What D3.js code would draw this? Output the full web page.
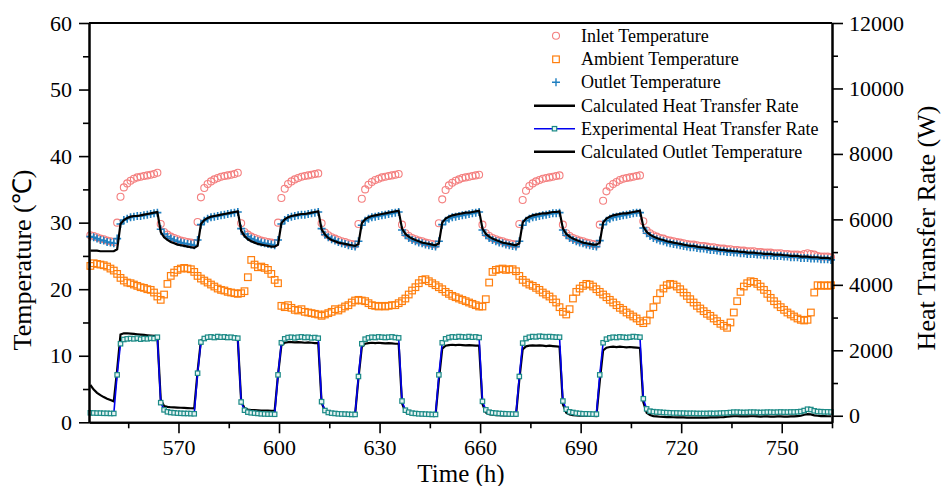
<!DOCTYPE html>
<html><head><meta charset="utf-8">
<script src="https://cdn.jsdelivr.net/npm/d3@7/dist/d3.min.js"></script>
<style>
body{margin:0;background:#fff}
svg{display:block}
text{font-family:"Liberation Serif","Times New Roman",serif;fill:#000}
</style>
</head><body>
<svg id="chart" width="941" height="486"></svg>
<script>
// ---------------- DATA (hourly samples starting at 543.7 h) ----------------
const timeStart = 543.7;
const timeStep = 1;

const inletTemp = [
 28.1,28.0,27.8,27.6,27.5,27.3,27.2,27.1,
 30.0,33.9,35.3,35.9,36.3,36.6,36.8,36.9,37.0,37.1,37.2,37.3,37.5,
 29.8,28.6,28.2,27.9,27.7,27.5,27.3,27.2,27.1,27.0,26.9,
 30.1,33.8,35.2,35.8,36.2,36.5,36.7,36.9,37.0,37.1,37.2,37.3,37.5,
 29.9,28.6,28.2,27.9,27.7,27.5,27.3,27.2,27.1,27.0,26.9,
 30.0,33.7,35.1,35.8,36.2,36.5,36.7,36.9,37.0,37.1,37.2,37.3,37.4,
 29.9,28.5,28.1,27.8,27.6,27.4,27.2,27.1,26.9,26.8,26.7,
 29.8,33.6,35.0,35.7,36.1,36.4,36.6,36.8,36.9,37.0,37.1,37.2,37.3,
 29.7,28.4,28.0,27.7,27.5,27.3,27.2,27.0,26.9,26.8,26.7,
 29.9,33.5,34.9,35.6,36.0,36.3,36.5,36.7,36.8,36.9,37.0,37.1,37.2,
 29.7,28.4,28.0,27.7,27.5,27.3,27.2,27.0,26.9,26.8,26.7,
 29.8,33.4,34.8,35.5,35.9,36.2,36.4,36.6,36.7,36.8,36.9,37.0,37.1,
 29.7,28.4,28.0,27.7,27.5,27.3,27.2,27.0,26.9,26.8,26.7,
 29.7,33.3,34.7,35.4,35.8,36.1,36.4,36.6,36.7,36.8,36.9,37.0,37.1,
 30.2,28.8,28.4,28.1,27.9,27.7,27.6,27.4,27.3,27.2,27.1,27.0,26.9,26.8,26.7,26.7,26.6,26.5,26.5,26.4,
 26.3,26.3,26.2,26.1,26.1,26.0,26.0,25.9,25.9,25.8,25.8,25.7,25.7,25.7,25.6,25.6,25.5,25.5,25.5,25.4,
 25.4,25.4,25.3,25.3,25.2,25.2,25.2,25.1,25.3,25.4,25.3,25.2,25.0,24.9,24.9,24.9,24.8
];

const ambientTemp = [
 23.5,23.9,23.8,23.7,23.6,23.4,23.1,22.8,22.3,21.7,21.3,21.0,20.9,20.7,20.5,20.3,20.2,20.0,19.9,19.5,
 18.9,18.4,19.2,20.8,22.0,22.5,22.9,23.1,23.2,23.1,23.0,22.6,22.0,21.6,21.3,21.0,20.7,20.4,20.1,19.9,
 19.8,19.6,19.5,19.4,19.3,19.4,19.7,21.8,24.4,23.7,23.3,23.4,23.2,22.9,22.3,21.4,20.9,17.5,17.3,17.6,
 17.2,16.9,16.8,17.0,16.6,16.5,16.4,16.3,16.2,16.0,16.2,16.4,16.6,17.0,16.8,17.1,17.4,17.6,18.0,18.3,
 18.4,18.3,18.2,17.9,17.6,17.5,17.4,17.5,17.4,17.5,17.6,17.6,17.9,18.2,18.6,19.2,19.8,20.3,20.9,21.4,
 21.5,21.2,20.9,20.6,20.3,20.0,19.6,19.3,19.0,18.8,18.6,18.4,18.2,18.0,17.8,17.6,17.4,17.4,18.5,21.0,
 22.6,22.9,23.0,23.1,22.9,23.0,23.0,22.7,22.0,21.4,21.0,20.7,20.5,20.2,19.9,19.5,19.2,18.9,18.5,18.0,
 17.3,16.6,16.2,17.0,18.6,19.6,20.1,20.5,20.8,20.7,20.4,20.0,19.6,19.2,18.8,18.4,18.0,17.6,17.2,16.9,
 16.5,16.2,15.9,15.6,15.2,14.9,15.3,16.2,17.3,18.4,19.4,20.1,20.6,20.8,20.7,20.4,20.0,19.5,19.0,18.5,
 18.0,17.5,17.1,16.7,16.3,16.0,15.6,15.2,14.8,14.5,14.2,15.0,16.5,18.2,19.6,20.4,20.9,21.2,21.1,20.8,
 20.4,19.9,19.3,18.7,18.2,17.7,17.3,16.9,16.5,16.2,15.9,15.6,15.4,15.3,15.4,16.5,19.5,20.6,20.5,20.6,
 20.5,20.6
];

const outletTemp = [
 27.9,27.8,27.6,27.4,27.3,27.1,27.0,26.9,
 27.6,29.8,30.4,30.6,30.8,30.9,31.0,31.0,31.1,31.2,31.3,31.4,31.5,
 29.0,28.3,27.9,27.6,27.4,27.2,27.0,26.9,26.8,26.7,26.6,
 27.4,29.7,30.3,30.6,30.8,30.9,31.0,31.1,31.2,31.3,31.4,31.5,31.6,
 29.1,28.3,27.9,27.6,27.4,27.2,27.0,26.9,26.8,26.7,26.6,
 27.4,29.8,30.4,30.7,30.9,31.0,31.1,31.2,31.2,31.3,31.4,31.5,31.6,
 29.1,28.2,27.8,27.5,27.3,27.1,26.9,26.8,26.6,26.5,26.4,
 27.2,29.6,30.3,30.6,30.8,30.9,31.0,31.1,31.2,31.3,31.4,31.5,31.6,
 28.9,28.1,27.7,27.4,27.2,27.0,26.9,26.7,26.6,26.5,26.4,
 27.2,29.7,30.3,30.6,30.8,30.9,31.0,31.1,31.2,31.3,31.4,31.5,31.6,
 28.9,28.1,27.7,27.4,27.2,27.0,26.9,26.7,26.6,26.5,26.4,
 27.2,29.6,30.3,30.6,30.8,30.9,31.0,31.1,31.2,31.3,31.4,31.4,31.5,
 28.9,28.1,27.7,27.4,27.2,27.0,26.9,26.7,26.6,26.5,26.4,
 27.3,29.7,30.3,30.6,30.8,30.9,31.0,31.1,31.2,31.3,31.4,31.5,31.5,
 29.2,28.4,28.0,27.7,27.5,27.3,27.2,27.0,26.9,26.8,26.7,26.6,26.5,26.4,26.3,26.3,26.2,26.1,26.1,26.0,
 25.9,25.9,25.8,25.7,25.7,25.6,25.6,25.5,25.5,25.4,25.4,25.3,25.3,25.3,25.2,25.2,25.1,25.1,25.1,25.0,
 25.0,25.0,24.9,24.9,24.8,24.8,24.8,24.7,24.7,24.7,24.6,24.6,24.6,24.5,24.5,24.5,24.4
];

const calcOutletTemp = [
 25.8,25.8,25.8,25.7,25.7,25.7,25.7,25.7,
 26.0,29.8,30.4,30.7,30.9,31.0,31.0,31.1,31.2,31.3,31.4,31.5,31.6,
 28.6,27.8,27.4,27.1,26.9,26.7,26.6,26.5,26.4,26.3,26.2,
 26.5,29.8,30.4,30.7,30.9,31.0,31.1,31.2,31.3,31.4,31.5,31.6,31.7,
 28.8,28.0,27.5,27.2,27.0,26.8,26.7,26.6,26.5,26.4,26.4,
 26.7,29.9,30.5,30.8,31.0,31.1,31.2,31.3,31.3,31.4,31.5,31.6,31.7,
 29.0,28.2,27.7,27.4,27.2,27.0,26.9,26.8,26.7,26.6,26.5,
 26.8,29.9,30.5,30.8,31.0,31.1,31.2,31.3,31.4,31.5,31.6,31.7,31.8,
 29.1,28.3,27.9,27.6,27.4,27.2,27.0,26.9,26.8,26.7,26.6,
 26.9,30.0,30.6,30.9,31.1,31.2,31.3,31.4,31.5,31.5,31.6,31.7,31.8,
 29.1,28.3,27.9,27.6,27.4,27.2,27.0,26.9,26.8,26.7,26.6,
 26.9,30.0,30.6,30.9,31.1,31.2,31.3,31.4,31.4,31.5,31.6,31.6,31.7,
 29.1,28.3,27.9,27.6,27.4,27.2,27.0,26.9,26.8,26.7,26.7,
 27.0,30.0,30.6,30.9,31.1,31.2,31.3,31.4,31.4,31.5,31.6,31.7,31.8,
 29.4,28.6,28.2,27.9,27.7,27.5,27.4,27.2,27.1,27.0,26.9,26.8,26.7,26.6,26.5,26.5,26.4,26.3,26.3,26.2,
 26.1,26.1,26.0,25.9,25.9,25.8,25.8,25.7,25.7,25.6,25.6,25.5,25.5,25.5,25.4,25.4,25.3,25.3,25.3,25.2,
 25.2,25.2,25.1,25.1,25.0,25.0,25.0,24.9,24.9,24.9,24.8,24.8,24.8,24.7,24.7,24.7,24.6
];

// heat transfer rates in W (right axis)
const calcHeatRate = [
 940,800,700,630,570,520,480,440,
 1400,2480,2520,2520,2510,2500,2490,2480,2470,2460,2450,2440,2430,
 500,300,270,260,255,250,245,240,235,230,225,
 1350,2300,2360,2380,2370,2360,2370,2360,2350,2360,2350,2340,2330,
 450,230,190,175,170,165,160,160,155,150,150,
 1250,2150,2230,2250,2250,2240,2250,2240,2230,2240,2230,2220,2220,
 400,150,100,80,70,60,60,55,50,50,45,
 1150,2100,2200,2220,2230,2220,2230,2220,2210,2220,2210,2200,2200,
 380,120,70,50,40,35,30,30,25,25,20,
 1100,2050,2140,2160,2170,2160,2170,2160,2150,2160,2150,2140,2140,
 360,100,50,30,20,15,10,10,5,5,0,
 1100,2030,2120,2140,2150,2140,2150,2140,2130,2140,2130,2120,2110,
 350,90,40,20,10,5,0,0,-5,-5,-10,
 1050,2000,2080,2100,2110,2100,2110,2100,2090,2100,2090,2080,2070,
 420,90,20,-10,-20,-30,-35,-40,-40,-45,-50,-50,-50,-55,-55,-55,-55,-55,-55,-55,
 -50,-50,-50,-45,-40,-30,-20,-15,-15,-20,-20,-20,-15,-15,-20,-25,-20,-20,-25,-25,
 -20,-20,-25,-25,-20,-20,-10,0,30,50,40,10,0,-10,-10,-15,-15
];

const expHeatRate = [
 90,85,80,80,75,75,70,70,
 1250,2200,2330,2350,2360,2350,2370,2340,2360,2350,2370,2360,2400,
 400,180,120,100,90,80,75,70,70,65,60,
 1300,2250,2360,2400,2410,2390,2420,2400,2410,2390,2400,2380,2370,
 420,170,110,90,80,70,60,55,50,50,45,
 1250,2230,2350,2390,2400,2380,2400,2410,2390,2400,2380,2390,2370,
 430,160,100,80,70,60,55,50,45,40,40,
 1200,2200,2340,2380,2400,2390,2410,2400,2390,2400,2410,2390,2380,
 450,170,110,80,70,60,55,50,45,40,40,
 1250,2230,2350,2390,2410,2400,2420,2410,2400,2420,2400,2410,2390,
 440,180,110,90,80,70,65,60,55,50,50,
 1200,2220,2360,2400,2420,2410,2430,2420,2410,2420,2410,2400,2400,
 450,200,120,100,80,70,60,60,55,50,50,
 1250,2230,2340,2380,2400,2390,2410,2400,2390,2400,2420,2410,2400,
 520,210,140,125,115,110,100,95,90,85,85,80,80,75,75,75,70,70,70,70,
 75,70,75,80,85,90,100,110,110,105,100,105,110,110,105,100,105,110,110,105,
 110,115,110,110,115,115,120,130,160,200,190,150,130,125,120,120,115
];

const xMajorTicks = [570, 600, 630, 660, 690, 720, 750];
const xMinorTicks = [555, 585, 615, 645, 675, 705, 735, 765];
const yLeftMajor = [0, 10, 20, 30, 40, 50, 60];
const yLeftMinor = [5, 15, 25, 35, 45, 55];
const yRightMajor = [0, 2000, 4000, 6000, 8000, 10000, 12000];
const yRightMinor = [1000, 3000, 5000, 7000, 9000, 11000];

const legendLabels = ["Inlet Temperature","Ambient Temperature","Outlet Temperature",
  "Calculated Heat Transfer Rate","Experimental Heat Transfer Rate","Calculated Outlet Temperature"];

// ---------------- CHART ----------------
const svg = d3.select("#chart");
const L = 89, R = 832, T = 23, B = 422.3;

const x = d3.scaleLinear().domain([543.3, 765]).range([L, R]);
const yL = d3.scaleLinear().domain([0, 60]).range([B, T]);
const yR = d3.scaleLinear().domain([-200, 12000]).range([B, T]);

const pts = arr => arr.map((v, i) => ({t: timeStart + i * timeStep, v}));

const COL = {inlet:"#f47f7f", amb:"#ff7f0e", out:"#1f7fc0", teal:"#1b8a86", blue:"#0000f0"};
const PLUS = "M-4,0H4M0,-4V4";

const plot = svg.append("g");

// ambient squares
plot.append("g").selectAll("rect").data(pts(ambientTemp)).join("rect")
  .attr("x", d => x(d.t) - 3.3).attr("y", d => yL(d.v) - 3.3)
  .attr("width", 6.6).attr("height", 6.6)
  .attr("fill", "none").attr("stroke", COL.amb).attr("stroke-width", 1.2);

// inlet circles
plot.append("g").selectAll("circle").data(pts(inletTemp)).join("circle")
  .attr("cx", d => x(d.t)).attr("cy", d => yL(d.v)).attr("r", 3.5)
  .attr("fill", "none").attr("stroke", COL.inlet).attr("stroke-width", 1.1);

// outlet plus markers
plot.append("g").selectAll("path").data(pts(outletTemp)).join("path")
  .attr("transform", d => `translate(${x(d.t)},${yL(d.v)})`)
  .attr("d", PLUS)
  .attr("stroke", COL.out).attr("stroke-width", 1.6).attr("fill", "none");

// calculated outlet temperature line
plot.append("path").datum(pts(calcOutletTemp))
  .attr("d", d3.line().x(d => x(d.t)).y(d => yL(d.v)))
  .attr("fill", "none").attr("stroke", "#000").attr("stroke-width", 2.2);

// calculated heat transfer rate line
plot.append("path").datum(pts(calcHeatRate))
  .attr("d", d3.line().x(d => x(d.t)).y(d => yR(d.v)))
  .attr("fill", "none").attr("stroke", "#000").attr("stroke-width", 2.2);

// experimental heat transfer rate line + markers
plot.append("path").datum(pts(expHeatRate))
  .attr("d", d3.line().x(d => x(d.t)).y(d => yR(d.v)))
  .attr("fill", "none").attr("stroke", COL.blue).attr("stroke-width", 1.6);
plot.append("g").selectAll("rect").data(pts(expHeatRate)).join("rect")
  .attr("x", d => x(d.t) - 2.2).attr("y", d => yR(d.v) - 2.2)
  .attr("width", 4.4).attr("height", 4.4)
  .attr("fill", "#e6f3f3").attr("stroke", COL.teal).attr("stroke-width", 1.2);

// ---------------- AXES ----------------
function styleAxis(g, sw) {
  g.select(".domain").attr("stroke", "#000").attr("stroke-width", 2);
  g.selectAll(".tick line").attr("stroke", "#000").attr("stroke-width", sw);
  g.selectAll(".tick text").attr("font-size", 22).attr("font-family", "Liberation Serif");
}
const ax = svg.append("g");
ax.append("g").attr("transform", `translate(0,${B})`)
  .call(d3.axisBottom(x).tickValues(xMinorTicks).tickSize(6).tickSizeOuter(0).tickFormat(""))
  .call(g => styleAxis(g, 1.6));
ax.append("g").attr("transform", `translate(0,${B})`)
  .call(d3.axisBottom(x).tickValues(xMajorTicks).tickSize(11).tickSizeOuter(0).tickPadding(6).tickFormat(d3.format("d")))
  .call(g => styleAxis(g, 1.6));

ax.append("g").attr("transform", `translate(${L},0)`)
  .call(d3.axisLeft(yL).tickValues(yLeftMinor).tickSize(6).tickSizeOuter(0).tickFormat(""))
  .call(g => styleAxis(g, 1.6));
ax.append("g").attr("transform", `translate(${L},0)`)
  .call(d3.axisLeft(yL).tickValues(yLeftMajor).tickSize(10).tickSizeOuter(0).tickPadding(7).tickFormat(d3.format("d")))
  .call(g => styleAxis(g, 1.6));

ax.append("g").attr("transform", `translate(${R},0)`)
  .call(d3.axisRight(yR).tickValues(yRightMinor).tickSize(6).tickSizeOuter(0).tickFormat(""))
  .call(g => styleAxis(g, 1.6));
ax.append("g").attr("transform", `translate(${R},0)`)
  .call(d3.axisRight(yR).tickValues(yRightMajor).tickSize(11).tickSizeOuter(0).tickPadding(6).tickFormat(d3.format("d")))
  .call(g => styleAxis(g, 1.6));

// top border
ax.append("line").attr("x1", L).attr("x2", R).attr("y1", T).attr("y2", T)
  .attr("stroke", "#000").attr("stroke-width", 2);

// axis titles
svg.append("text").attr("x", 461).attr("y", 482).attr("text-anchor", "middle")
  .attr("font-size", 25).text("Time (h)");
svg.append("text").attr("transform", "translate(31,260) rotate(-90)").attr("text-anchor", "middle")
  .attr("font-size", 26).text("Temperature (\u2103)");
svg.append("text").attr("transform", "translate(935,228) rotate(-90)").attr("text-anchor", "middle")
  .attr("font-size", 26).text("Heat Transfer Rate (W)");

// ---------------- LEGEND ----------------
const leg = svg.append("g");
const rowY = [35.7, 59.3, 82.3, 105.7, 128.7, 151.7];
const symX = 556;
leg.selectAll("text").data(legendLabels).join("text")
  .attr("x", 581).attr("y", (d, i) => rowY[i] + 6).attr("font-size", 18).text(d => d);
leg.append("circle").attr("cx", symX).attr("cy", rowY[0]).attr("r", 3.5)
  .attr("fill", "none").attr("stroke", COL.inlet).attr("stroke-width", 1.1);
leg.append("rect").attr("x", symX - 3.3).attr("y", rowY[1] - 3.3).attr("width", 6.6).attr("height", 6.6)
  .attr("fill", "none").attr("stroke", COL.amb).attr("stroke-width", 1.2);
leg.append("path").attr("transform", `translate(${symX},${rowY[2]})`).attr("d", PLUS)
  .attr("stroke", COL.out).attr("stroke-width", 1.4);
leg.append("line").attr("x1", 534).attr("x2", 575).attr("y1", rowY[3]).attr("y2", rowY[3])
  .attr("stroke", "#000").attr("stroke-width", 2.4);
leg.append("line").attr("x1", 534).attr("x2", 575).attr("y1", rowY[4]).attr("y2", rowY[4])
  .attr("stroke", COL.blue).attr("stroke-width", 1.6);
leg.append("rect").attr("x", 554.5 - 2.2).attr("y", rowY[4] - 2.2).attr("width", 4.4).attr("height", 4.4)
  .attr("fill", "#e6f3f3").attr("stroke", COL.teal).attr("stroke-width", 1.2);
leg.append("line").attr("x1", 534).attr("x2", 575).attr("y1", rowY[5]).attr("y2", rowY[5])
  .attr("stroke", "#000").attr("stroke-width", 2.4);
</script>
</body></html>
